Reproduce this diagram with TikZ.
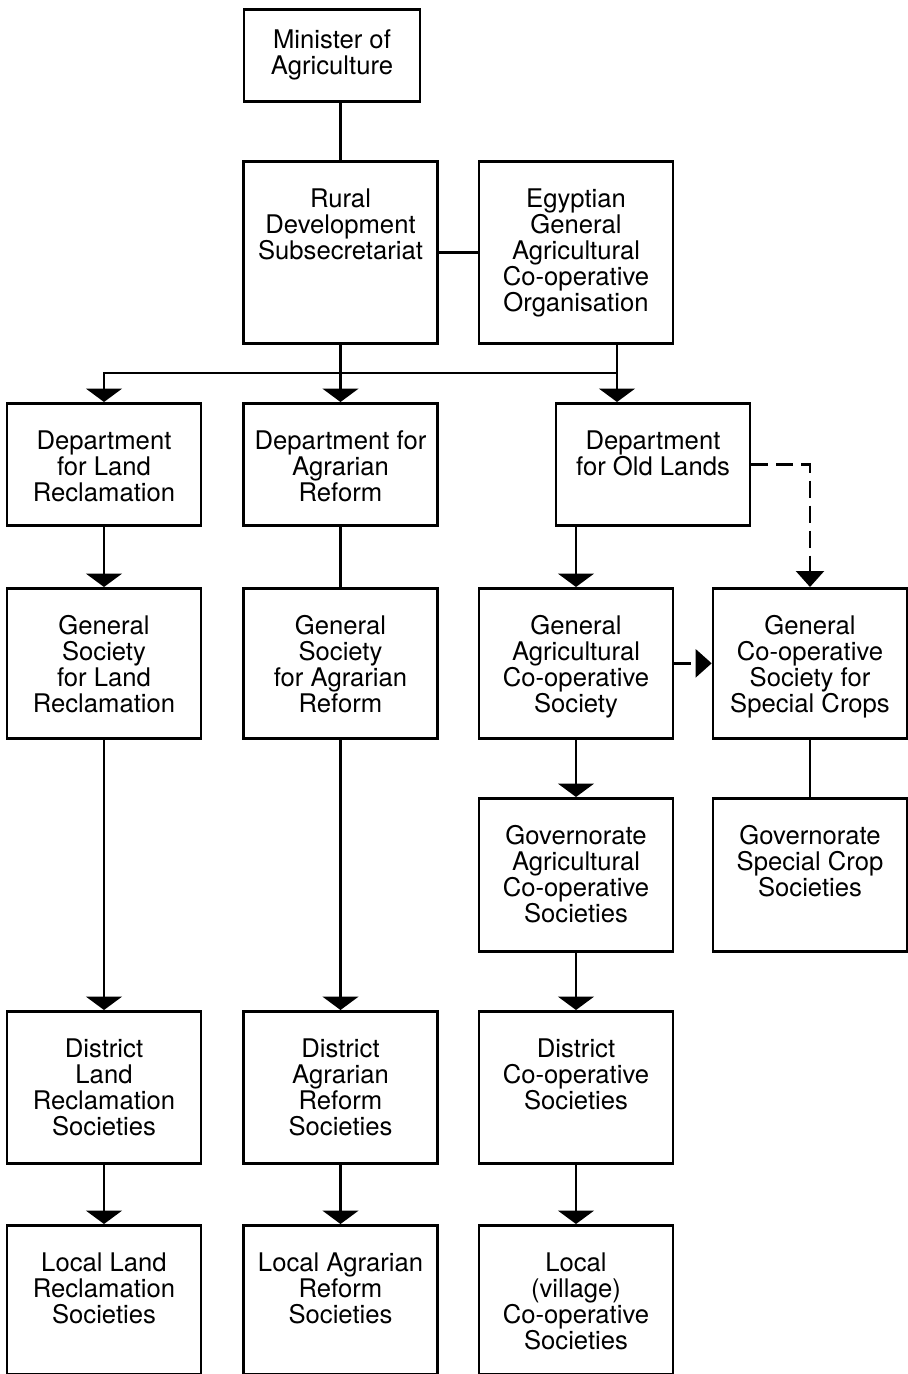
\documentclass[tikz,border=0pt]{standalone}
\usepackage{fontspec}
\usepackage{tikz}
\usetikzlibrary{arrows.meta}
\newfontfamily\orgfont{TeX Gyre Heros}
% text hangs from the top of each box, first baseline 0.92cm down
\newcommand{\boxlines}[2]{\parbox[c][#1][t]{3.88cm}{\centering\rule{0pt}{0.92cm}#2}}

\begin{document}
\begin{tikzpicture}[x=1cm,y=1cm,
    box/.style={draw, line width=1.5pt, inner sep=0pt, anchor=north,
                font={\orgfont\fontsize{14.6}{14.8}\selectfont}},
    link/.style={line width=1.35pt},
    flow/.style={link, -{Triangle[width=7.2mm, length=2.7mm]}},
    dflow/.style={link, dash pattern=on 3.4mm off 1.6mm,
                  -{Triangle[width=5.6mm, length=3.2mm]}}]

  \useasboundingbox (0,0) rectangle (18.16,-27.48);

  % -- top of the ministry --
  \node[box, minimum width=3.52cm, minimum height=1.84cm, align=center]
       (minister) at (6.64,-0.16) {Minister of\\Agriculture};

  % -- all other boxes: name / centre x / top y / height / lines
  \foreach \n/\x/\y/\h/\txt in {%
      rural/6.81/-3.20/3.64/{Rural\\Development\\Subsecretariat},
      egypt/11.52/-3.20/3.64/{Egyptian\\General\\Agricultural\\Co-operative\\Organisation},
      landdept/2.08/-8.04/2.44/{Department\\for Land\\Reclamation},
      agrdept/6.81/-8.04/2.44/{Department for\\Agrarian\\Reform},
      olddept/13.06/-8.04/2.44/{Department\\for Old Lands},
      landgen/2.08/-11.74/3.00/{General\\Society\\for Land\\Reclamation},
      agrgen/6.81/-11.74/3.00/{General\\Society\\for Agrarian\\Reform},
      agrigen/11.52/-11.74/3.00/{General\\Agricultural\\Co-operative\\Society},
      special/16.20/-11.74/3.00/{General\\Co-operative\\Society for\\Special Crops},
      govagri/11.52/-15.94/3.06/{Governorate\\Agricultural\\Co-operative\\Societies},
      govspec/16.20/-15.94/3.06/{Governorate\\Special Crop\\Societies},
      landdist/2.08/-20.20/3.04/{District\\Land\\Reclamation\\Societies},
      agrdist/6.81/-20.20/3.04/{District\\Agrarian\\Reform\\Societies},
      coopdist/11.52/-20.20/3.04/{District\\Co-operative\\Societies},
      landloc/2.08/-24.48/2.97/{Local Land\\Reclamation\\Societies},
      agrloc/6.81/-24.48/2.97/{Local Agrarian\\Reform\\Societies},
      villloc/11.52/-24.48/2.97/{Local\\(village)\\Co-operative\\Societies}}{
    \node[box] (\n) at (\x,\y) {\boxlines{\h cm}{\txt}};}

  % -- plain links, no arrow --
  \draw[link] (minister.south -| rural.north) -- (rural.north);
  \draw[link] (rural.east) -- (egypt.west);
  \draw[link] (agrdept) -- (agrgen);
  \draw[link] (special) -- (govspec);

  % -- the distribution bar under the two top boxes
  \coordinate (egyout) at ([xshift=8.2mm]egypt.south);
  \coordinate (bar) at (landdept.north |- 0,-7.46);
  \draw[flow] (rural) -- (agrdept);
  \draw[flow] (egyout) -- (egyout |- bar) -- (bar) -- (landdept.north);
  \draw[flow] (egyout) -- (egyout |- olddept.north);
  \draw[flow] (olddept.south -| agrigen.north) -- (agrigen.north);

  % -- straight downward arrows within each column
  \foreach \a/\b in {landdept/landgen, landgen/landdist, landdist/landloc,
                     agrgen/agrdist, agrdist/agrloc,
                     agrigen/govagri, govagri/coopdist, coopdist/villloc}{
    \draw[flow] (\a) -- (\b);}

  % -- dashed links to the special crops society
  \draw[dflow] (olddept.east) -| (special.north);
  \draw[dflow] (agrigen.east) -- (special.west);
\end{tikzpicture}
\end{document}
